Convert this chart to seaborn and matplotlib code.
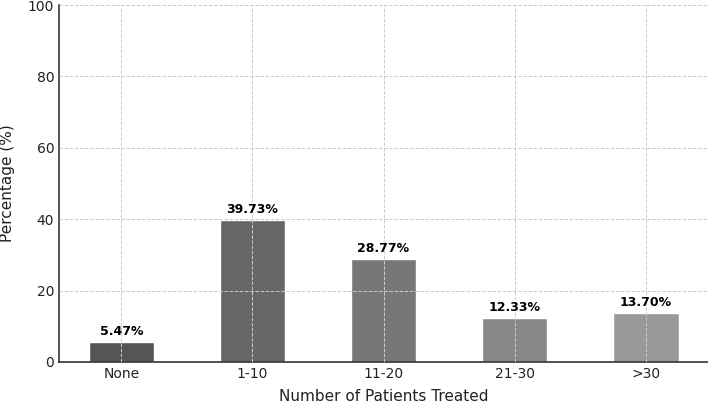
import matplotlib
matplotlib.use("Agg")
import matplotlib.pyplot as plt
import seaborn as sns
import pandas as pd

categories = ["None", "1-10", "11-20", "21-30", ">30"]
percentages = [5.47, 39.73, 28.77, 12.33, 13.70]
bar_colors = ["#555555", "#666666", "#777777", "#888888", "#999999"]

sns.set_theme(style="white")
plt.rcParams['font.family'] = ['DejaVu Sans']

df = pd.DataFrame({"cat": categories, "pct": percentages})

fig, ax = plt.subplots(figsize=(7.08, 4.04), dpi=100)
fig.subplots_adjust(left=0.0835, right=1.0, top=0.9876, bottom=0.104)

sns.barplot(data=df, x="cat", y="pct", hue="cat", palette=bar_colors,
            width=0.5, legend=False, ax=ax, saturation=1)

ax.set_ylim(0, 100)
ax.set_xlim(-0.475, 4.475)
ax.set_xlabel("Number of Patients Treated", fontsize=11, color="#222222", labelpad=6)
ax.set_ylabel("Percentage (%)", fontsize=11, color="#222222", labelpad=9)
ax.tick_params(axis="both", direction="in", length=4, labelsize=10, colors="#333333",
               labelcolor="#222222")
ax.set_yticks([0, 20, 40, 60, 80, 100])

ax.grid(True, linestyle="--", color="#cccccc", linewidth=0.7)
ax.set_axisbelow(False)

for s in ["top", "right"]:
    ax.spines[s].set_visible(False)
for s in ["left", "bottom"]:
    ax.spines[s].set_color("#333333")
    ax.spines[s].set_linewidth(1.2)

for i, v in enumerate(percentages):
    ax.text(i, v + 1.2, f"{v:.2f}%", ha="center", va="bottom",
            fontsize=9, fontweight="bold", color="black")

fig.savefig("out.png", dpi=100)
